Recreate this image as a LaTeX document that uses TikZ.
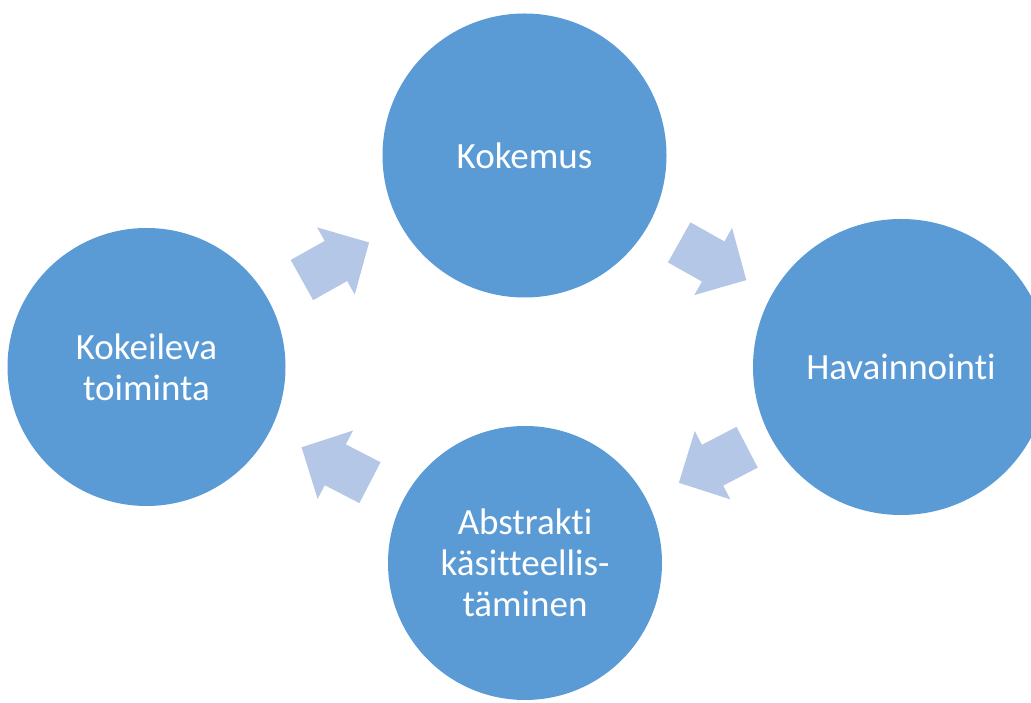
\documentclass[tikz,border=0pt]{standalone}
\usepackage{fontspec}
\setmainfont[RawFeature={-liga;-clig;-dlig}]{Carlito}
\definecolor{circblue}{HTML}{5B9BD5}
\definecolor{arrowblue}{HTML}{B4C7E7}
\tikzset{
  x=1pt, y=1pt,
  stage/.style={circle, fill=circblue, draw=none, inner sep=0pt,
    text=white, align=center,
    font=\fontsize{37}{41}\selectfont},
  cyclearrow/.pic={
    \fill[arrowblue] (-38.5,-23) -- (0.5,-23) -- (0.5,-38.5) -- (38.5,0)
      -- (0.5,38.5) -- (0.5,23) -- (-38.5,23) -- cycle;
  }
}
\begin{document}
\begin{tikzpicture}
\useasboundingbox (0,0) rectangle (1031,703);
\clip (0,0) rectangle (1031,703);
% the four stages of the cycle
\node[stage, minimum size=284pt] (kok)  at (524.5,547.5) {Kokemus};
\node[stage, minimum size=296pt] (hav)  at (901,336)    {Havainnointi};
\node[stage, minimum size=274pt] (abs)  at (525,140)    {Abstrakti\\käsitteellis-\\täminen};
\node[stage, minimum size=278pt] (koke) at (146.5,336)  {Kokeileva\\toiminta};
% block arrows half way between neighbouring stages
\path (koke.center) -- (kok.center)  pic[pos=0.5, sloped] {cyclearrow};
\path (kok.center)  -- (hav.center)  pic[pos=0.5, sloped] {cyclearrow};
\path (hav.center)  -- (abs.center)  pic[pos=0.5, sloped, rotate=180] {cyclearrow};
\path (abs.center)  -- (koke.center) pic[pos=0.5, sloped, rotate=180] {cyclearrow};
\end{tikzpicture}
\end{document}
